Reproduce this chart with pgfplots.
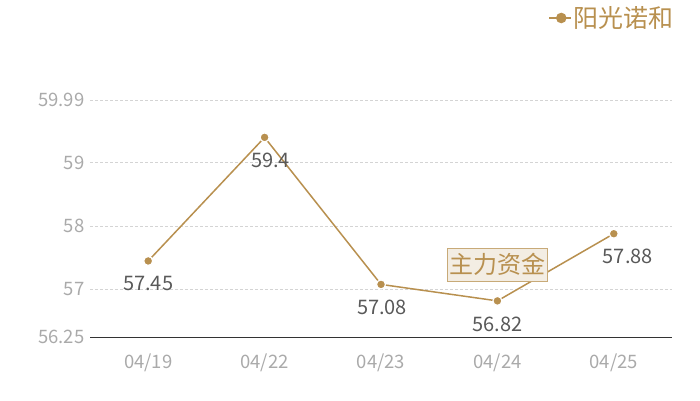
\documentclass[border=0pt]{standalone}
\usepackage{pgfplots}
\pgfplotsset{compat=1.18}
\usepackage{fontspec}
\setmainfont{Noto Sans CJK SC}
\definecolor{gold}{HTML}{B8904F}
\definecolor{ticklab}{HTML}{AAAAAA}
\definecolor{datalab}{HTML}{595959}
\definecolor{boxfill}{HTML}{F3EDE3}
\definecolor{boxdraw}{HTML}{C8AA78}

\pgfplotstableread{
x y dx lab
0 57.45 0 57.45
1 59.4 6 59.4
2 57.08 1 57.08
3 56.82 0 56.82
4 57.88 14 57.88
}\prices

\begin{document}
\begin{tikzpicture}[x=1pt,y=1pt]
\begin{axis}[
  at={(90pt,63pt)}, anchor=south west,
  scale only axis, width=582pt, height=237pt,
  xmin=-0.5, xmax=4.5, ymin=56.25, ymax=59.99,
  xtick={0,1,2,3,4},
  xticklabels={04/19,04/22,04/23,04/24,04/25},
  ytick={56.25,57,58,59,59.99},
  yticklabels={56.25,57,58,59,59.99},
  major tick length=0pt,
  axis x line*=bottom, axis y line*=left,
  x axis line style={draw=black!80, line width=0.8pt, -},
  y axis line style={draw=none},
  ymajorgrids, grid style={densely dashed, black!17, line width=0.5pt},
  tick label style={font=\fontsize{18.5}{20}\selectfont, text=ticklab},
  xticklabel style={yshift=-13pt},
  yticklabel style={xshift=-2pt},
  /pgf/number format/assume math mode=true,
  legend style={at={(1.007,1.346)}, anchor=east, draw=none, fill=none,
    font=\fontsize{25}{27}\selectfont, text=gold, inner sep=0pt},
  legend image code/.code={
    \draw[gold, line width=1.2pt] (0pt,0pt) -- (22pt,0pt);
    \fill[gold] (12pt,0pt) circle (4.5pt);
  },
]
\addplot[gold, line width=1.5pt, mark=*,
  mark options={fill=gold, draw=white, line width=1.2pt}, mark size=4.5pt,
  nodes near coords, point meta=explicit symbolic,
  visualization depends on={\thisrow{dx} \as \dx},
  every node near coord/.append style={anchor=center, yshift=-23pt,
    xshift=\dx pt, font=\fontsize{20}{22}\selectfont, text=datalab}]
  table[x=x, y=y, meta=lab] {\prices};
\addlegendentry{阳光诺和}
\node[fill=boxfill, draw=boxdraw, line width=0.8pt, text=gold,
  font=\fontsize{24}{26}\selectfont, inner sep=1pt, minimum width=100pt, minimum height=33pt]
  at (axis cs:3,57.39) {主力资金};
\end{axis}
\pgfresetboundingbox
\useasboundingbox (0,0) rectangle (700,400);
\end{tikzpicture}
\end{document}
